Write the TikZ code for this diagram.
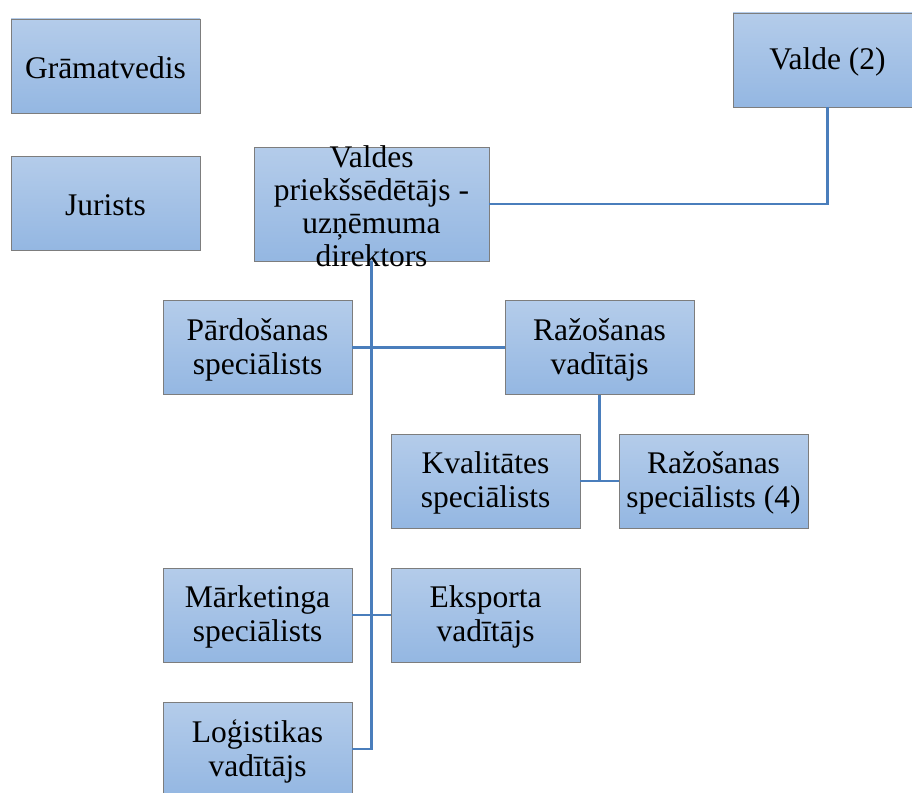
\documentclass[tikz,border=0pt]{standalone}
\usepackage{fontspec}
\setmainfont{Liberation Serif}
\newfontfamily\tnrfont{Liberation Serif}
\definecolor{boxtop}{RGB}{180,204,234}
\definecolor{boxbot}{RGB}{148,183,226}
\definecolor{boxline}{RGB}{125,125,125}
\definecolor{conn}{RGB}{74,126,188}
\tikzset{
  orgbox/.style={draw=boxline, line width=0.8pt, top color=boxtop, bottom color=boxbot,
    minimum width=189pt, minimum height=94pt, inner sep=0pt, outer sep=0pt},
  boxtext/.style={align=center, inner sep=0pt, yshift=-2pt, font=\tnrfont\fontsize{31.5}{34}\selectfont},
  link/.style={draw=conn, line width=2.5pt}
}
\begin{document}
\begin{tikzpicture}[x=1pt,y=-1pt]
\useasboundingbox (0,0) rectangle (912,792);
\node[orgbox, label={[boxtext]center:Grāmatvedis}] (gram) at (105.5,66) {};
\node[orgbox, label={[boxtext]center:Jurists}] (jur) at (105.5,203) {};
\node[orgbox, label={[boxtext]center:Valde (2)}] (valde) at (827.5,60) {};
\node[orgbox, minimum width=235pt, minimum height=114pt,
  label={[boxtext, font=\tnrfont\fontsize{31.5}{33}\selectfont]center:{Valdes\\priekšsēdētājs -\\uzņēmuma\\direktors}}] (dir) at (371.5,204) {};
\node[orgbox, label={[boxtext]center:{Pārdošanas\\speciālists}}] (pard) at (257.5,347.5) {};
\node[orgbox, label={[boxtext]center:{Ražošanas\\vadītājs}}] (razv) at (599.5,347.5) {};
\node[orgbox, label={[boxtext]center:{Kvalitātes\\speciālists}}] (kval) at (485.5,481) {};
\node[orgbox, label={[boxtext]center:{Ražošanas\\speciālists (4)}}] (razs) at (713.5,481) {};
\node[orgbox, label={[boxtext]center:{Mārketinga\\speciālists}}] (mark) at (257.5,615) {};
\node[orgbox, label={[boxtext]center:{Eksporta\\vadītājs}}] (eksp) at (485.5,615) {};
\node[orgbox, label={[boxtext]center:{Loģistikas\\vadītājs}}] (log) at (257.5,749) {};
\draw[link] (dir.east) -| (valde.south);
\draw[link] (dir.south) |- (log.east);
\draw[link] (pard.east) -- (razv.west);
\draw[link] (mark.east) -- (eksp.west);
\draw[link] (razv.south) -- (razv.south |- kval.east);
\draw[link] (kval.east) -- (razs.west);
\end{tikzpicture}
\end{document}
